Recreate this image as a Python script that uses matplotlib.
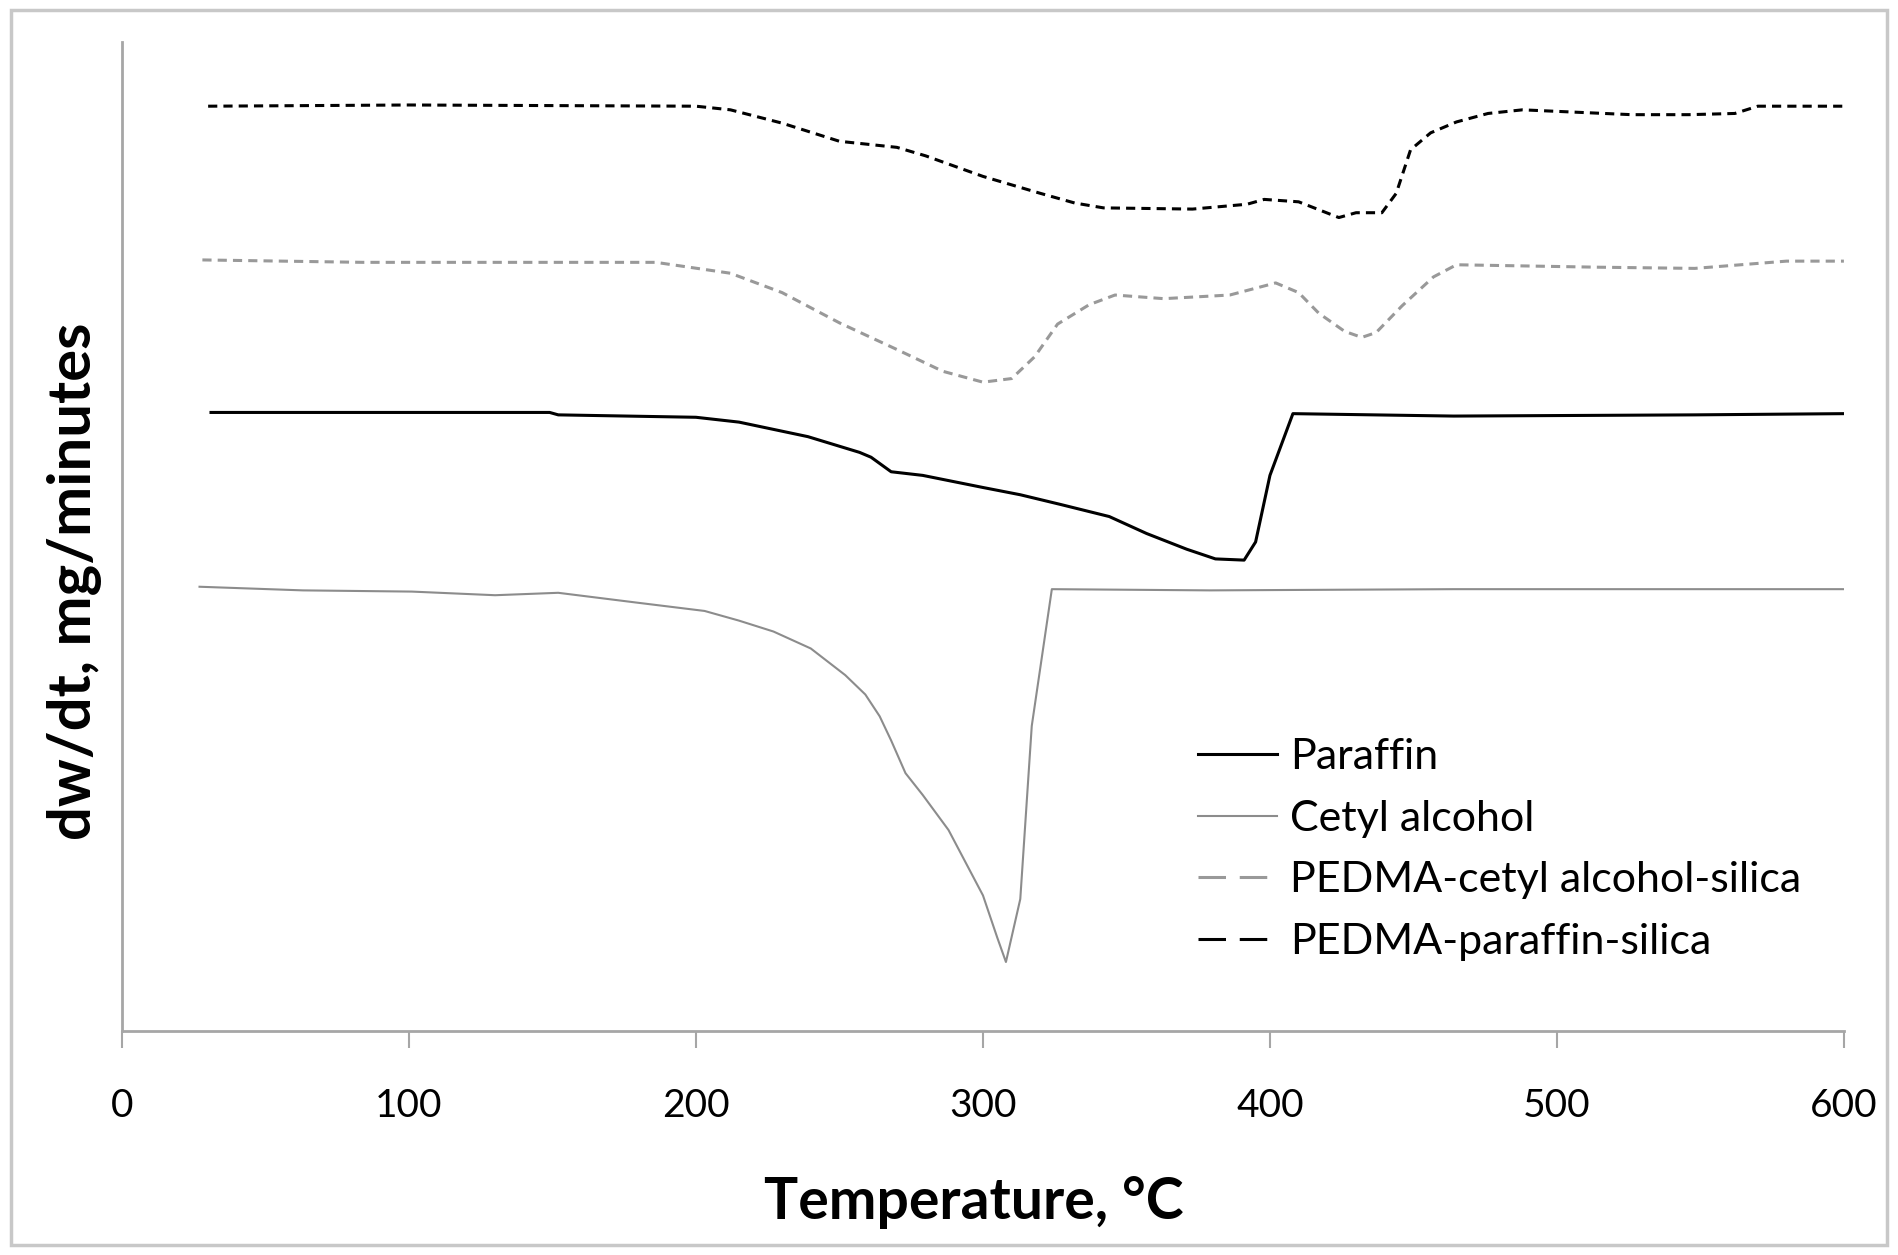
# -*- coding: utf-8 -*-
'''DTG curves: dw/dt vs temperature'''
import matplotlib
matplotlib.use('Agg')
import matplotlib.pyplot as plt
from matplotlib.patches import Rectangle

plt.rcParams['font.family'] = ['Lato', 'DejaVu Sans']

# data (arbitrary dw/dt units, curves offset)
T_pps = [30, 100, 200, 212, 230, 250, 270, 280, 300, 320, 332, 342, 373, 392, 398, 410,
         424, 430, 439, 444, 449, 456, 465, 476, 488, 526, 546, 562, 570, 600]
v_pps = [7.64, 7.65, 7.64, 7.61, 7.50, 7.35, 7.30, 7.23, 7.06, 6.92, 6.84, 6.80, 6.79, 6.83,
         6.87, 6.85, 6.72, 6.76, 6.76, 6.92, 7.28, 7.42, 7.51, 7.58, 7.61, 7.57, 7.57, 7.58,
         7.64, 7.64]

T_pcs = [28, 84, 186, 212, 230, 250, 270, 286, 300, 310, 318, 326, 337, 346, 363, 386, 402,
         410, 417, 426, 432, 437, 446, 457, 465, 514, 548, 580, 600]
v_pcs = [6.37, 6.35, 6.35, 6.26, 6.10, 5.85, 5.63, 5.45, 5.36, 5.39, 5.57, 5.84, 6.00, 6.08,
         6.05, 6.08, 6.18, 6.10, 5.93, 5.78, 5.73, 5.77, 5.99, 6.23, 6.33, 6.31, 6.30, 6.36,
         6.36]

T_par = [31, 149, 152, 200, 215, 239, 257, 261, 268, 279, 300, 313, 327, 344, 357, 371, 381,
         391, 395, 400, 408, 464, 548, 600]
v_par = [5.11, 5.11, 5.09, 5.07, 5.03, 4.91, 4.78, 4.74, 4.62, 4.59, 4.49, 4.43, 4.35, 4.25,
         4.11, 3.98, 3.90, 3.89, 4.04, 4.59, 5.10, 5.08, 5.09, 5.10]

T_cet = [27, 63, 101, 130, 152, 179, 203, 215, 227, 240, 252, 259, 264, 268, 273, 279, 288,
         300, 305, 308, 313, 317, 324, 379, 464, 600]
v_cet = [3.67, 3.64, 3.63, 3.60, 3.62, 3.54, 3.47, 3.39, 3.30, 3.16, 2.94, 2.78, 2.60, 2.40,
         2.13, 1.95, 1.66, 1.12, 0.77, 0.57, 1.09, 2.52, 3.65, 3.64, 3.65, 3.65]

fig = plt.figure(figsize=(18.98, 12.55), dpi=100)
ax = fig.add_axes([0.0643, 0.1785, 0.9072, 0.788])

ax.plot(T_par, v_par, color='black', lw=2.2, label='Paraffin')
ax.plot(T_cet, v_cet, color='#8c8c8c', lw=1.5, label='Cetyl alcohol')
ax.plot(T_pcs, v_pcs, color='#999999', lw=2.2, ls=(0, (3, 2)),
        label='PEDMA-cetyl alcohol-silica')
ax.plot(T_pps, v_pps, color='black', lw=2.2, ls=(0, (3, 2)),
        label='PEDMA-paraffin-silica')

ax.set_xlim(0, 600)
ax.set_ylim(0, 8.17)
ax.set_xticks(range(0, 601, 100))
ax.set_yticks([])
for s in ['top', 'right']:
    ax.spines[s].set_visible(False)
for s in ['left', 'bottom']:
    ax.spines[s].set_color('#a6a6a6')
    ax.spines[s].set_linewidth(2)
ax.tick_params(axis='x', direction='out', length=12, width=1.5, color='#a6a6a6',
               labelsize=28, pad=29)

fig.text(0.0395, 0.537, 'dw/dt, mg/minutes', rotation=90, ha='center', va='center',
         fontsize=43, fontweight='bold')
fig.text(0.513, 0.042, 'Temperature, °C', ha='center', va='center',
         fontsize=41, fontweight='bold')

leg = ax.legend(loc='upper left', bbox_to_anchor=(0.631, 0.412),
                bbox_transform=fig.transFigure, frameon=False, fontsize=31,
                handlelength=1.85, handletextpad=0.3, labelspacing=0.55,
                borderpad=0, borderaxespad=0)
# legend shows longer dashes than the curves
for h in leg.get_lines()[2:]:
    h.set_dashes([9, 4.5])

fig.patches.append(Rectangle((0.006, 0.008), 0.988, 0.984, transform=fig.transFigure,
                             fill=False, edgecolor='#c8c8c8', lw=2.5))

plt.savefig('out.png', dpi=100)
